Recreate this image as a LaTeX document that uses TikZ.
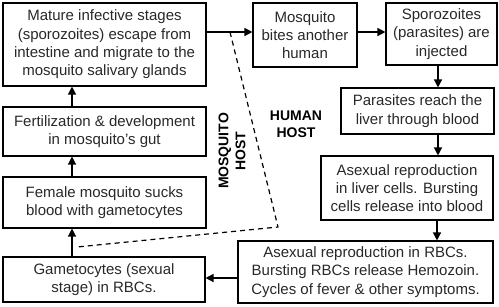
\documentclass[tikz,border=0pt]{standalone}
\usepackage{fontspec}
\setmainfont{Liberation Sans}
\usetikzlibrary{arrows.meta}
\definecolor{txt}{RGB}{40,40,40}
\begin{document}
\begin{tikzpicture}[x=1pt,y=-1pt,
  box/.style={draw=black,line width=1.1pt,align=center,inner sep=0pt,text=txt,
    font=\fontsize{15}{18.3}\selectfont},
  arr/.style={line width=1.3pt,-{Triangle[length=8pt,width=8pt]}},
  hostlabel/.style={font=\fontsize{14}{17}\selectfont\bfseries,align=center,text=black,inner sep=0pt}]
\useasboundingbox (0,0) rectangle (499,306);
% boxes
\node[box,minimum width=203pt,minimum height=83pt] (b1) at (104.5,44.5)
  {Mature infective stages\\(sporozoites) escape from\\intestine and migrate to the\\mosquito salivary glands};
\node[box,minimum width=104pt,minimum height=64pt] (b2) at (305,35)
  {Mosquito\\bites another\\human};
\node[box,minimum width=111pt,minimum height=62pt] (b3) at (441.5,34)
  {Sporozoites\\(parasites) are\\injected};
\node[box,minimum width=153pt,minimum height=46pt] (b4) at (417.5,111)
  {Parasites reach the\\liver through blood};
\node[box,minimum width=172pt,minimum height=64pt] (b5) at (407,188)
  {Asexual reproduction\\in liver cells. Bursting\\cells release into blood};
\node[box,minimum width=255pt,minimum height=62pt] (b6) at (365.5,272)
  {Asexual reproduction in RBCs.\\Bursting RBCs release Hemozoin.\\Cycles of fever \& other symptoms.};
\node[box,minimum width=203pt,minimum height=49pt] (b7) at (104.5,131.5)
  {Fertilization \& development\\in mosquito's gut};
\node[box,minimum width=203pt,minimum height=51pt] (b8) at (104.5,202.5)
  {Female mosquito sucks\\blood with gametocytes};
\node[box,minimum width=202pt,minimum height=45pt] (b9) at (104,279.5)
  {Gametocytes (sexual\\stage) in RBCs.};
% labels
\node[hostlabel,rotate=90] (mh) at (232,151) {MOSQUITO\\HOST};
\node[hostlabel] (hh) at (296,124) {HUMAN\\HOST};
% arrows
\draw[arr] (b1.east |- 0,32) -- (b2.west |- 0,32);
\draw[arr] (b2.east |- 0,32) -- (b3.west |- 0,32);
\draw[arr] (b3.south -| 438,0) -- (b4.north -| 438,0);
\draw[arr] (b4.south -| 438,0) -- (b5.north -| 438,0);
\draw[arr] (b5.south -| 437,0) -- (b6.north -| 437,0);
\draw[arr] (b6.west |- 0,278) -- (b9.east |- 0,278);
\draw[arr] (b9.north -| 72,0) -- (b8.south -| 72,0);
\draw[arr] (b8.north -| 72,0) -- (b7.south -| 72,0);
\draw[arr] (b7.north -| 72,0) -- (b1.south -| 72,0);
% boundary
\coordinate (d1) at (230,32);
\coordinate (d2) at (278,227);
\coordinate (d3) at (77,247);
\draw[dashed,line width=1.2pt,dash pattern=on 5pt off 4pt] (d1) -- (d2) -- (d3);
\end{tikzpicture}
\end{document}
